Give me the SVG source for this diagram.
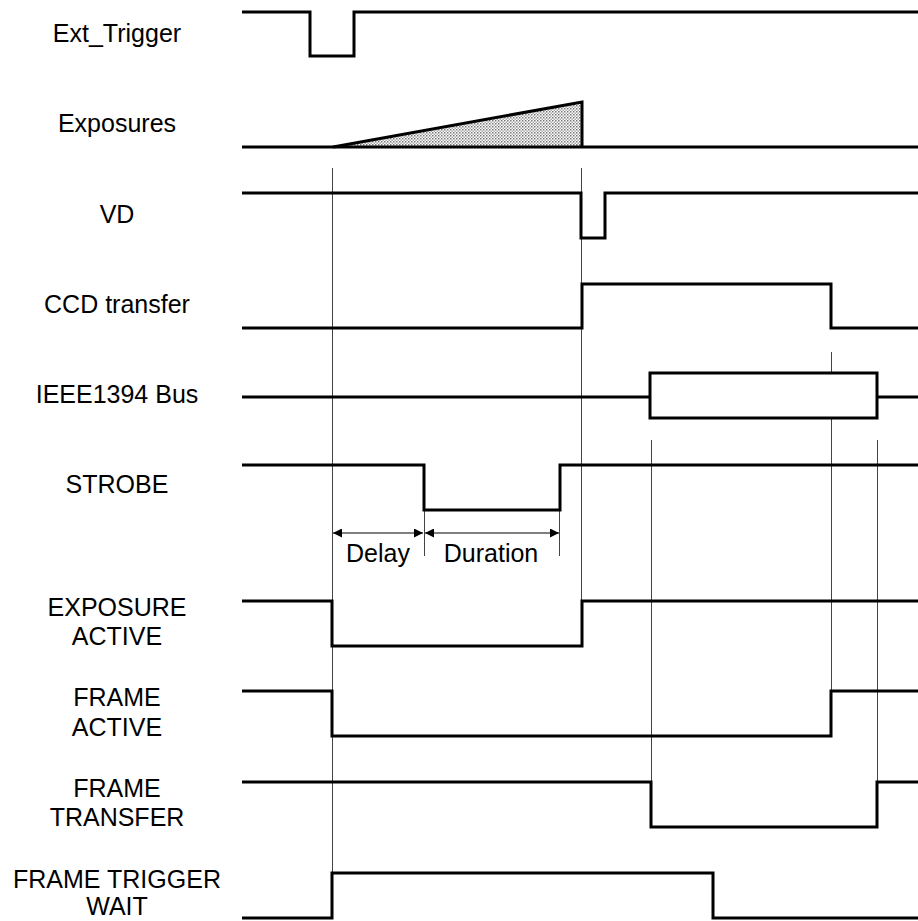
<svg xmlns="http://www.w3.org/2000/svg" width="918" height="921" viewBox="0 0 918 921">
<style>
.sig{fill:none;stroke:#000;stroke-width:3;stroke-linejoin:miter;stroke-linecap:butt}
.guide{fill:none;stroke:#444;stroke-width:1}
.lbl{font-family:"Liberation Sans",Arial,sans-serif;font-size:25px;fill:#000;text-anchor:middle}
.dim{fill:none;stroke:#000;stroke-width:1}
</style>
<defs>
<pattern id="dots" width="3" height="3" patternUnits="userSpaceOnUse">
<rect width="3" height="3" fill="#fff"/>
<rect x="0" y="0" width="1.5" height="1.5" fill="#777"/>
<rect x="1.5" y="1.5" width="1.5" height="1.5" fill="#aaa"/>
</pattern>
<marker id="ah" viewBox="0 0 10 10" refX="10" refY="5" markerWidth="9" markerHeight="9" markerUnits="userSpaceOnUse" orient="auto-start-reverse">
<path d="M0,0 L10,5 L0,10 z" fill="#000"/>
</marker>
</defs>
<rect width="918" height="921" fill="#fff"/>

<g id="guides">
<line class="guide" x1="332.5" y1="168" x2="332.5" y2="873"/>
<line class="guide" x1="581.5" y1="168" x2="581.5" y2="601"/>
<line class="guide" x1="831.5" y1="352" x2="831.5" y2="373"/>
<line class="guide" x1="831.5" y1="418" x2="831.5" y2="691"/>
<line class="guide" x1="651.5" y1="440" x2="651.5" y2="782"/>
<line class="guide" x1="877.5" y1="440" x2="877.5" y2="782"/>
<line class="guide" x1="424.5" y1="510" x2="424.5" y2="556"/>
<line class="guide" x1="559.5" y1="510" x2="559.5" y2="556"/>
</g>

<g id="ext_trigger">
<text class="lbl" x="117" y="42">Ext_Trigger</text>
<polyline class="sig" points="242,12 310,12 310,56 354,56 354,12 918,12"/>
</g>

<g id="exposures">
<text class="lbl" x="117" y="132">Exposures</text>
<polygon points="333,147 582,102 582,147" fill="url(#dots)" stroke="none"/>
<polyline class="sig" points="333,147 582,102 582,147"/>
<line class="sig" x1="242" y1="147" x2="918" y2="147"/>
</g>

<g id="vd">
<text class="lbl" x="117" y="223">VD</text>
<polyline class="sig" points="242,193 581,193 581,238 605,238 605,193 918,193"/>
</g>

<g id="ccd_transfer">
<text class="lbl" x="117" y="313">CCD transfer</text>
<polyline class="sig" points="242,328 582,328 582,284 831,284 831,328 918,328"/>
</g>

<g id="ieee1394_bus">
<text class="lbl" x="117" y="403">IEEE1394 Bus</text>
<line class="sig" x1="242" y1="397" x2="650" y2="397"/>
<rect class="sig" x="650" y="373" width="227" height="45" fill="#fff"/>
<line class="sig" x1="877" y1="397" x2="918" y2="397"/>
</g>

<g id="strobe">
<text class="lbl" x="117" y="493">STROBE</text>
<polyline class="sig" points="242,465 424,465 424,510 560,510 560,465 918,465"/>
</g>

<g id="connectors">
<line class="dim" x1="333" y1="533" x2="423" y2="533" marker-start="url(#ah)" marker-end="url(#ah)"/>
<line class="dim" x1="425" y1="533" x2="559" y2="533" marker-start="url(#ah)" marker-end="url(#ah)"/>
</g>
<g id="dim_labels">
<text class="lbl" x="378" y="562">Delay</text>
<text class="lbl" x="491" y="562">Duration</text>
</g>

<g id="exposure_active">
<text class="lbl" x="117" y="616">EXPOSURE</text>
<text class="lbl" x="117" y="645">ACTIVE</text>
<polyline class="sig" points="242,601 332,601 332,646 582,646 582,601 918,601"/>
</g>

<g id="frame_active">
<text class="lbl" x="117" y="706">FRAME</text>
<text class="lbl" x="117" y="736">ACTIVE</text>
<polyline class="sig" points="242,691 332,691 332,736 831,736 831,691 918,691"/>
</g>

<g id="frame_transfer">
<text class="lbl" x="117" y="797">FRAME</text>
<text class="lbl" x="117" y="826">TRANSFER</text>
<polyline class="sig" points="242,782 651,782 651,827 877,827 877,782 918,782"/>
</g>

<g id="frame_trigger_wait">
<text class="lbl" x="117" y="888">FRAME TRIGGER</text>
<text class="lbl" x="117" y="915">WAIT</text>
<polyline class="sig" points="242,918 332,918 332,873 713,873 713,918 918,918"/>
</g>
</svg>
